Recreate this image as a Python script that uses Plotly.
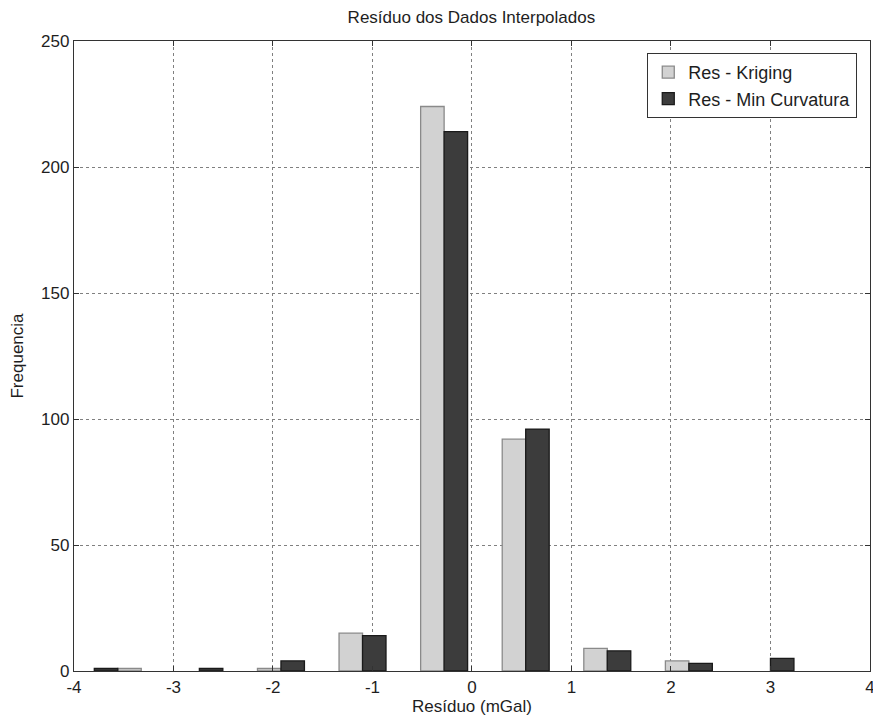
import plotly.graph_objects as go

# Bin centers (mGal) of the histogram groups
bin_centers = [-3.56, -2.74, -1.92, -1.10, -0.28, 0.54, 1.36, 2.18, 3.00]
# Frequencies per bin
res_kriging = [1, 0, 1, 15, 224, 92, 9, 4, 0]
res_min_curv = [1, 1, 4, 14, 214, 96, 8, 3, 5]
# In the first group the two bars appear in swapped order
swapped = [True, False, False, False, False, False, False, False, False]

x_ticks = [-4, -3, -2, -1, 0, 1, 2, 3, 4]
x_tick_text = ["-4", "-3", "-2", "-1", "0", "1", "2", "3", "4"]
y_ticks = [0, 50, 100, 150, 200, 250]

bar_w = 0.236
off_k = [0.0 if s else -bar_w for s in swapped]
off_m = [-bar_w if s else 0.0 for s in swapped]
edge_k = [1.3 if v > 0 else 0 for v in res_kriging]
edge_m = [1.3 if v > 0 else 0 for v in res_min_curv]

font_family = "Liberation Sans, Arial, sans-serif"
txt = "#1e1e1e"

fig = go.Figure()
fig.add_trace(go.Bar(
    x=bin_centers, y=res_kriging, name="Res - Kriging",
    width=bar_w, offset=off_k,
    marker=dict(color="#d2d2d2", line=dict(color="#8a8a8a", width=edge_k)),
))
fig.add_trace(go.Bar(
    x=bin_centers, y=res_min_curv, name="Res - Min Curvatura",
    width=bar_w, offset=off_m,
    marker=dict(color="#3c3c3c", line=dict(color="#1a1a1a", width=edge_m)),
))

axis_common = dict(
    showline=True, linecolor="#333", linewidth=1.3, mirror="ticks",
    ticks="inside", ticklen=5, tickcolor="#333",
    showgrid=True, gridcolor="#808080", griddash="dot", gridwidth=1,
    zeroline=False, automargin=False, ticklabeloverflow="allow",
    tickfont=dict(family=font_family, size=17, color=txt),
)

fig.update_layout(
    width=873, height=717,
    margin=dict(l=74, r=3, t=41, b=46, autoexpand=False),
    paper_bgcolor="white", plot_bgcolor="white",
    barmode="overlay",
    title=dict(text="Resíduo dos Dados Interpolados", x=0.54, xanchor="center",
               y=0.976, yanchor="middle",
               font=dict(family=font_family, size=17, color=txt)),
    xaxis=dict(range=[-4, 4.0005], tickvals=x_ticks, ticktext=x_tick_text,
               title=dict(text="Resíduo (mGal)", standoff=0,
                          font=dict(family=font_family, size=17, color=txt)),
               **axis_common),
    yaxis=dict(range=[0, 250], tickvals=y_ticks,
               title=dict(text="Frequencia", standoff=13,
                          font=dict(family=font_family, size=17, color=txt)),
               **axis_common),
    legend=dict(x=0.984, y=0.981, xanchor="right", yanchor="top",
                bgcolor="white", bordercolor="#333", borderwidth=1,
                font=dict(family=font_family, size=18, color=txt),
                tracegroupgap=0),
    showlegend=True,
)

fig.write_html(
    "out.html",
    config={"displayModeBar": False},
    post_script="document.body.style.margin='0';document.body.style.overflow='hidden';",
)
